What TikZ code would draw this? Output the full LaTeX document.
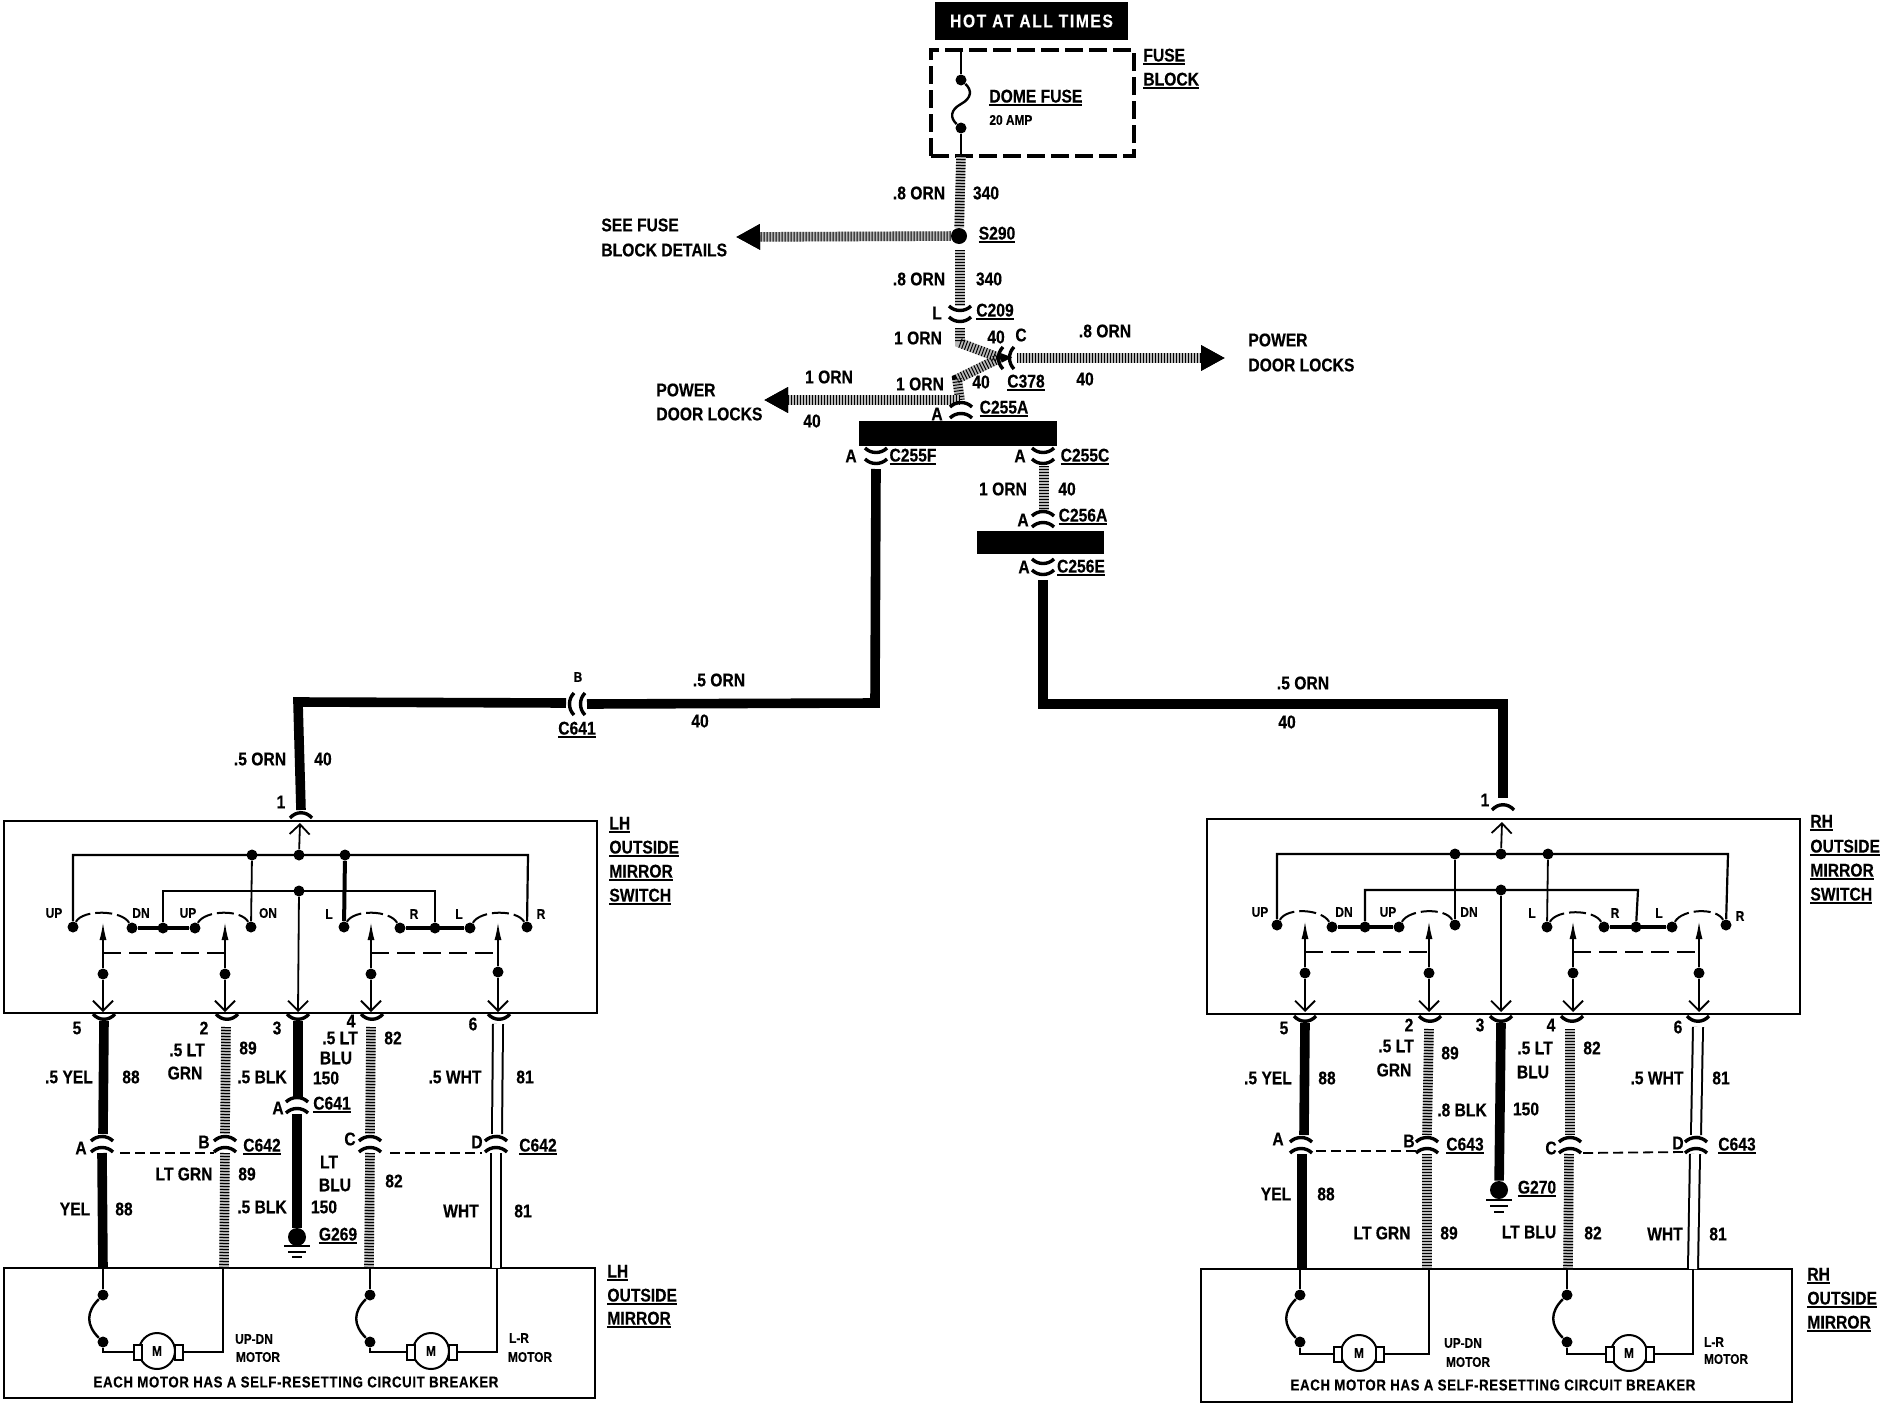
\documentclass[tikz,border=0pt]{standalone}
\usepackage{fontspec}
\setmainfont[FakeStretch=0.85,BoldFeatures={FakeBold=0.35}]{Liberation Sans}
\usetikzlibrary{arrows.meta}

\newcommand{\ulbl}[1]{\setbox0\hbox{#1}\leavevmode\vtop{\hbox{#1}\kern0.8pt\hrule width\wd0 height 1pt}}

\tikzset{
 lbl/.style = {font=\fontsize{9.2}{10}\selectfont\bfseries, inner sep=0pt},
 lblw/.style = {lbl, anchor=west},
 tiny/.style = {font=\fontsize{7}{8}\selectfont\bfseries, inner sep=0pt},
 note/.style = {font=\fontsize{7.8}{9}\selectfont\bfseries\addfontfeature{LetterSpace=4}, inner sep=0pt},
 dot/.style = {circle, fill=black, inner sep=0pt, minimum size=5.5pt},
 bigdot/.style = {circle, fill=black, inner sep=0pt, minimum size=9pt},
 sbox/.style = {draw, line width=1.4pt, inner sep=0pt, outer sep=0pt},
 brush/.style = {draw, fill=white, line width=1pt, inner sep=0pt, minimum width=4pt, minimum height=7.5pt},
 motor/.style = {circle, draw, fill=white, line width=1pt, inner sep=0pt, minimum size=18pt, font=\fontsize{7}{8}\selectfont\bfseries},
 blackwire/.style = {line width=4.8pt},
 graywire/.style = {line width=4.8pt, black!28, postaction={draw, black, line width=4.8pt, dash pattern=on 0.5pt off 1pt}},
 whitewire/.style = {line width=1pt, double=white, double distance=4pt},
 swline/.style = {line width=0.9pt},
 busline/.style = {line width=1.1pt},
 thickline/.style = {line width=2pt},
 swarc/.style = {line width=1pt, dash pattern=on 8.5pt off 2.5pt},
 linkline/.style = {line width=1.2pt, dash pattern=on 9pt off 4pt},
 tieline/.style = {line width=0.9pt, dash pattern=on 5pt off 2.5pt},
 connline/.style = {line width=1.7pt},
 upTip/.style = {-{Latex[length=9pt,width=3.5pt]}},
 downTip/.style = {-{Straight Barb[length=5pt,width=10pt]}},
 bigTip/.style = {-{Triangle[length=12pt,width=12pt,color=black,fill=black]}},
 conn/.pic = {
  \draw[connline] (-11,-8) .. controls (-5,-2) and (5,-2) .. (11,-8);
  \draw[connline] (-11,3) .. controls (-5,9) and (5,9) .. (11,3);
 },
 pin/.pic = {
  \draw[connline] (-11,-4) .. controls (-5,3) and (5,3) .. (11,-4);
 }
}

\begin{document}
\begin{tikzpicture}[x=0.5pt, y=-0.5pt]
\path[use as bounding box, fill=white] (0,0) rectangle (1880,1408);

\coordinate (FB_top) at (961,50);
\coordinate (FB_mid) at (961,104);
\coordinate (FB_bot) at (961,156);
\coordinate (W340_t) at (960,250);
\coordinate (W340_b) at (960,306);
\coordinate (C209) at (960,314);
\coordinate (W40_a) at (960,328);
\coordinate (W40_b) at (960,343);
\coordinate (C378) at (1006,358);
\coordinate (W40_c) at (1000,358);
\coordinate (W40_d) at (957,379);
\coordinate (W40_e) at (960,400);
\coordinate (W40_f) at (1017,358);
\coordinate (PDL_r) at (1225,358);
\coordinate (PDL_l) at (764,400);
\coordinate (SFB) at (736,237);
\coordinate (C255A) at (961,410);
\coordinate (C255F) at (876,456);
\coordinate (C255C) at (1043,456);
\coordinate (W40_g) at (1044,466);
\coordinate (W40_h) at (1044,510);
\coordinate (C256A) at (1043,519);
\coordinate (C256E) at (1043,567);
\coordinate (BL_a) at (876,469);
\coordinate (BL_b) at (875,703);
\coordinate (BL_c) at (587,704);
\coordinate (C641_t) at (577,704);
\coordinate (BL_d) at (566,703);
\coordinate (BL_e) at (298,702);
\coordinate (BL_f) at (301,810);
\coordinate (BR_a) at (1043,580);
\coordinate (BR_b) at (1043,704);
\coordinate (BR_c) at (1503,704);
\coordinate (BR_d) at (1503,798);

% boxes and bars
\node[fill=black, text=white, lbl, minimum width=96.5pt, minimum height=19pt] (HOT) at (1031.5,21) {\addfontfeature{LetterSpace=8.5}HOT AT ALL TIMES};
\node[draw, line width=1.7pt, dash pattern=on 9pt off 3pt, inner sep=0pt, minimum width=101.5pt, minimum height=53pt] (FB) at (1032.5,103) {};
\node[fill=black, inner sep=0pt, minimum width=99pt, minimum height=12.5pt] (BAR1) at (958,433.5) {};
\node[fill=black, inner sep=0pt, minimum width=63.5pt, minimum height=11.5pt] (BAR2) at (1040.5,542.5) {};
\node[sbox, minimum width=296.5pt, minimum height=96pt] (LS_box) at (300.5,917) {};
\node[sbox, minimum width=295.5pt, minimum height=65pt] (LM_box) at (299.5,1333) {};
\node[sbox, minimum width=296.5pt, minimum height=97.5pt] (RS_box) at (1503.5,916.5) {};
\node[sbox, minimum width=295.5pt, minimum height=66.5pt] (RM_box) at (1496.5,1335.5) {};

% fuse and orange feed
\node[dot] (F1) at (961,80) {};
\node[dot] (F2) at (961,128) {};
\node[circle, fill=black, inner sep=0pt, minimum size=8pt] (S290) at (959,236) {};
\draw[line width=1.2pt] (FB_top) -- (F1);
\draw[line width=1.2pt] (F1) .. controls (972,90) and (972,98) .. (FB_mid) .. controls (950,110) and (950,118) .. (F2);
\draw[line width=1.2pt] (F2) -- (FB_bot);
\draw[graywire] (FB_bot) -- (S290);
\draw[graywire, bigTip] (S290) -- (SFB);
\draw[graywire] (W340_t) -- (W340_b);
\draw[graywire] (W40_a) -- (W40_b) -- (W40_c) -- (W40_d) -- (W40_e);
\draw[graywire, bigTip] (W40_f) -- (PDL_r);
\draw[graywire, bigTip] (W40_e) -- (PDL_l);
\draw[graywire] (W40_g) -- (W40_h);
\draw[blackwire] (BL_a) -- (BL_b) -- (BL_c);
\draw[blackwire] (BL_d) -- (BL_e) -- (BL_f);
\draw[blackwire] (BR_a) -- (BR_b) -- (BR_c) -- (BR_d);

\pic at (C209) {conn};
\pic[rotate=-90] at (C378) {conn};
\pic[rotate=180] at (C255A) {conn};
\pic at (C255F) {conn};
\pic at (C255C) {conn};
\pic[rotate=180] at (C256A) {conn};
\pic at (C256E) {conn};
\pic[rotate=-90] at (C641_t) {conn};

% LH switch
\node[dot] (LS_J1) at (252,855) {};
\node[dot] (LS_J2) at (299,855) {};
\node[dot] (LS_J3) at (345,855) {};
\node[dot] (LS_J4) at (299,891) {};
\node[dot] (LS_C1) at (73,927) {};
\node[dot] (LS_C2) at (132,928) {};
\node[dot] (LS_C3) at (163,928) {};
\node[dot] (LS_C4) at (195,928) {};
\node[dot] (LS_C5) at (251,927) {};
\node[dot] (LS_C6) at (344,927) {};
\node[dot] (LS_C7) at (400,928) {};
\node[dot] (LS_C8) at (435,928) {};
\node[dot] (LS_C9) at (470,928) {};
\node[dot] (LS_C10) at (527,927) {};
\node[dot] (LS_W1) at (103,974) {};
\node[dot] (LS_W2) at (225,974) {};
\node[dot] (LS_W3) at (371,974) {};
\node[dot] (LS_W4) at (498,972) {};
\coordinate (LS_in) at (300,823);
\coordinate (LS_a) at (73,855);
\coordinate (LS_b) at (528,855);
\coordinate (LS_c) at (163,891);
\coordinate (LS_d) at (435,891);
\coordinate (LS_out) at (298,1012);
\coordinate (LS_K1) at (103,953);
\coordinate (LS_K2) at (225,953);
\coordinate (LS_K3) at (371,953);
\coordinate (LS_K4) at (498,953);
\coordinate (LS_T1) at (103,922);
\coordinate (LS_T2) at (225,922);
\coordinate (LS_T3) at (371,922);
\coordinate (LS_T4) at (498,922);
\coordinate (LS_B1) at (103,1012);
\coordinate (LS_B2) at (225,1012);
\coordinate (LS_B3) at (371,1012);
\coordinate (LS_B4) at (498,1012);

\draw[swline, downTip] (LS_J2) -- (LS_in);
\draw[busline] (LS_C1) -- (LS_a) -- (LS_b) -- (LS_C10);
\draw[swline] (LS_J1) -- (LS_C5);
\draw[thickline] (LS_J3) -- (LS_C6);
\draw[busline] (LS_C3) -- (LS_c) -- (LS_d) -- (LS_C8);
\draw[swline, downTip] (LS_J4) -- (LS_out);
\draw[thickline] (LS_C2) -- (LS_C4);
\draw[thickline] (LS_C7) -- (LS_C9);
\draw[swarc] (LS_C1) .. controls +(10,-18) and +(-10,-18) .. (LS_C2);
\draw[swarc] (LS_C4) .. controls +(10,-18) and +(-10,-18) .. (LS_C5);
\draw[swarc] (LS_C6) .. controls +(10,-18) and +(-10,-18) .. (LS_C7);
\draw[swarc] (LS_C9) .. controls +(10,-18) and +(-10,-18) .. (LS_C10);
\draw[swline, upTip] (LS_W1) -- (LS_T1);
\draw[swline, upTip] (LS_W2) -- (LS_T2);
\draw[swline, upTip] (LS_W3) -- (LS_T3);
\draw[swline, upTip] (LS_W4) -- (LS_T4);
\draw[swline, downTip] (LS_W1) -- (LS_B1);
\draw[swline, downTip] (LS_W2) -- (LS_B2);
\draw[swline, downTip] (LS_W3) -- (LS_B3);
\draw[swline, downTip] (LS_W4) -- (LS_B4);
\draw[linkline] (LS_K1) -- (LS_K2);
\draw[linkline] (LS_K3) -- (LS_K4);

% RH switch
\node[dot] (RS_J1) at (1455,854) {};
\node[dot] (RS_J2) at (1501,854) {};
\node[dot] (RS_J3) at (1548,854) {};
\node[dot] (RS_J4) at (1501,890) {};
\node[dot] (RS_C1) at (1277,925) {};
\node[dot] (RS_C2) at (1332,927) {};
\node[dot] (RS_C3) at (1365,927) {};
\node[dot] (RS_C4) at (1399,927) {};
\node[dot] (RS_C5) at (1455,925) {};
\node[dot] (RS_C6) at (1547,927) {};
\node[dot] (RS_C7) at (1604,927) {};
\node[dot] (RS_C8) at (1636,927) {};
\node[dot] (RS_C9) at (1672,927) {};
\node[dot] (RS_C10) at (1726,925) {};
\node[dot] (RS_W1) at (1305,973) {};
\node[dot] (RS_W2) at (1429,973) {};
\node[dot] (RS_W3) at (1573,973) {};
\node[dot] (RS_W4) at (1699,973) {};
\coordinate (RS_in) at (1502,822);
\coordinate (RS_a) at (1277,854);
\coordinate (RS_b) at (1728,854);
\coordinate (RS_c) at (1365,890);
\coordinate (RS_d) at (1638,890);
\coordinate (RS_out) at (1501,1012);
\coordinate (RS_K1) at (1305,952);
\coordinate (RS_K2) at (1429,952);
\coordinate (RS_K3) at (1573,952);
\coordinate (RS_K4) at (1699,952);
\coordinate (RS_T1) at (1305,921);
\coordinate (RS_T2) at (1429,921);
\coordinate (RS_T3) at (1573,921);
\coordinate (RS_T4) at (1699,921);
\coordinate (RS_B1) at (1305,1012);
\coordinate (RS_B2) at (1429,1012);
\coordinate (RS_B3) at (1573,1012);
\coordinate (RS_B4) at (1699,1012);

\draw[swline, downTip] (RS_J2) -- (RS_in);
\draw[busline] (RS_C1) -- (RS_a) -- (RS_b) -- (RS_C10);
\draw[busline] (RS_J1) -- (RS_C5);
\draw[swline] (RS_J3) -- (RS_C6);
\draw[busline] (RS_C3) -- (RS_c) -- (RS_d) -- (RS_C8);
\draw[swline, downTip] (RS_J4) -- (RS_out);
\draw[thickline] (RS_C2) -- (RS_C4);
\draw[thickline] (RS_C7) -- (RS_C9);
\draw[swarc] (RS_C1) .. controls +(10,-18) and +(-10,-18) .. (RS_C2);
\draw[swarc] (RS_C4) .. controls +(10,-18) and +(-10,-18) .. (RS_C5);
\draw[swarc] (RS_C6) .. controls +(10,-18) and +(-10,-18) .. (RS_C7);
\draw[swarc] (RS_C9) .. controls +(10,-18) and +(-10,-18) .. (RS_C10);
\draw[swline, upTip] (RS_W1) -- (RS_T1);
\draw[swline, upTip] (RS_W2) -- (RS_T2);
\draw[swline, upTip] (RS_W3) -- (RS_T3);
\draw[swline, upTip] (RS_W4) -- (RS_T4);
\draw[swline, downTip] (RS_W1) -- (RS_B1);
\draw[swline, downTip] (RS_W2) -- (RS_B2);
\draw[swline, downTip] (RS_W3) -- (RS_B3);
\draw[swline, downTip] (RS_W4) -- (RS_B4);
\draw[linkline] (RS_K1) -- (RS_K2);
\draw[linkline] (RS_K3) -- (RS_K4);

% LH harness
\coordinate (LP1) at (104,1018);
\coordinate (LP2) at (227,1018);
\coordinate (LP3) at (298,1018);
\coordinate (LP4) at (372,1018);
\coordinate (LP5) at (499,1018);
\coordinate (LP6) at (301,814);
\coordinate (LC1) at (102,1144);
\coordinate (LC2) at (225,1144);
\coordinate (LC3) at (297,1105);
\coordinate (LC4) at (370,1144);
\coordinate (LC5) at (496,1144);
\pic at (LP1) {pin};
\pic at (LP2) {pin};
\pic at (LP3) {pin};
\pic at (LP4) {pin};
\pic at (LP5) {pin};
\pic[rotate=180] at (LP6) {pin};
\pic[rotate=180] at (LC1) {conn};
\pic[rotate=180] at (LC2) {conn};
\pic[rotate=180] at (LC3) {conn};
\pic[rotate=180] at (LC4) {conn};
\pic[rotate=180] at (LC5) {conn};

\coordinate (LW1_a) at (104,1021);
\coordinate (LW1_b) at (103,1134);
\coordinate (LW1_c) at (102,1153);
\coordinate (LW1_d) at (103,1268);
\coordinate (LW2_a) at (226,1027);
\coordinate (LW2_b) at (225,1134);
\coordinate (LW2_c) at (225,1153);
\coordinate (LW2_d) at (224,1268);
\coordinate (LW3_a) at (298,1021);
\coordinate (LW3_b) at (298,1098);
\coordinate (LW3_c) at (297,1114);
\coordinate (LW4_a) at (371,1027);
\coordinate (LW4_b) at (370,1134);
\coordinate (LW4_c) at (370,1153);
\coordinate (LW4_d) at (369,1268);
\coordinate (LW5_a) at (498,1024);
\coordinate (LW5_b) at (497,1134);
\coordinate (LW5_c) at (496,1153);
\coordinate (LW5_d) at (496,1268);
\node[bigdot] (G269) at (297,1237) {};
\coordinate (LG1) at (284,1246);
\coordinate (LG2) at (310,1246);
\coordinate (LG3) at (288,1252);
\coordinate (LG4) at (306,1252);
\coordinate (LG5) at (292,1257);
\coordinate (LG6) at (302,1257);
\coordinate (LT1) at (120,1153);
\coordinate (LT2) at (214,1153);
\coordinate (LT3) at (390,1153);
\coordinate (LT4) at (482,1153);

\draw[blackwire] (LW1_a) -- (LW1_b);
\draw[blackwire] (LW1_c) -- (LW1_d);
\draw[graywire] (LW2_a) -- (LW2_b);
\draw[graywire] (LW2_c) -- (LW2_d);
\draw[blackwire] (LW3_a) -- (LW3_b);
\draw[blackwire] (LW3_c) -- (G269);
\draw[graywire] (LW4_a) -- (LW4_b);
\draw[graywire] (LW4_c) -- (LW4_d);
\draw[whitewire] (LW5_a) -- (LW5_b);
\draw[whitewire] (LW5_c) -- (LW5_d);
\draw[busline] (LG1) -- (LG2);
\draw[busline] (LG3) -- (LG4);
\draw[busline] (LG5) -- (LG6);
\draw[tieline] (LT1) -- (LT2);
\draw[tieline] (LT3) -- (LT4);

% RH harness
\coordinate (RP1) at (1305,1020);
\coordinate (RP2) at (1430,1020);
\coordinate (RP3) at (1501,1020);
\coordinate (RP4) at (1572,1020);
\coordinate (RP5) at (1698,1020);
\coordinate (RP6) at (1503,806);
\coordinate (RC1) at (1301,1145);
\coordinate (RC2) at (1427,1145);
\coordinate (RC3) at (1570,1145);
\coordinate (RC4) at (1696,1145);
\pic at (RP1) {pin};
\pic at (RP2) {pin};
\pic at (RP3) {pin};
\pic at (RP4) {pin};
\pic at (RP5) {pin};
\pic[rotate=180] at (RP6) {pin};
\pic[rotate=180] at (RC1) {conn};
\pic[rotate=180] at (RC2) {conn};
\pic[rotate=180] at (RC3) {conn};
\pic[rotate=180] at (RC4) {conn};

\coordinate (RW1_a) at (1305,1023);
\coordinate (RW1_b) at (1304,1135);
\coordinate (RW1_c) at (1302,1154);
\coordinate (RW1_d) at (1302,1269);
\coordinate (RW2_a) at (1429,1029);
\coordinate (RW2_b) at (1427,1135);
\coordinate (RW2_c) at (1427,1154);
\coordinate (RW2_d) at (1427,1269);
\coordinate (RW3_a) at (1501,1023);
\coordinate (RW4_a) at (1570,1029);
\coordinate (RW4_b) at (1570,1135);
\coordinate (RW4_c) at (1569,1154);
\coordinate (RW4_d) at (1568,1269);
\coordinate (RW5_a) at (1698,1027);
\coordinate (RW5_b) at (1696,1135);
\coordinate (RW5_c) at (1695,1154);
\coordinate (RW5_d) at (1693,1269);
\node[bigdot] (G270) at (1499,1190) {};
\coordinate (RG1) at (1486,1200);
\coordinate (RG2) at (1512,1200);
\coordinate (RG3) at (1490,1206);
\coordinate (RG4) at (1508,1206);
\coordinate (RG5) at (1494,1212);
\coordinate (RG6) at (1504,1212);
\coordinate (RT1) at (1316,1151);
\coordinate (RT2) at (1417,1151);
\coordinate (RT3) at (1583,1153);
\coordinate (RT4) at (1684,1152);

\draw[blackwire] (RW1_a) -- (RW1_b);
\draw[blackwire] (RW1_c) -- (RW1_d);
\draw[graywire] (RW2_a) -- (RW2_b);
\draw[graywire] (RW2_c) -- (RW2_d);
\draw[blackwire] (RW3_a) -- (G270);
\draw[graywire] (RW4_a) -- (RW4_b);
\draw[graywire] (RW4_c) -- (RW4_d);
\draw[whitewire] (RW5_a) -- (RW5_b);
\draw[whitewire] (RW5_c) -- (RW5_d);
\draw[busline] (RG1) -- (RG2);
\draw[busline] (RG3) -- (RG4);
\draw[busline] (RG5) -- (RG6);
\draw[tieline] (RT1) -- (RT2);
\draw[tieline] (RT3) -- (RT4);

% LH mirror
\coordinate (LM_a) at (103,1268);
\coordinate (LM_b) at (223,1268);
\coordinate (LM_c) at (370,1268);
\coordinate (LM_d) at (497,1268);
\node[dot] (LM_D1) at (103,1295) {};
\node[dot] (LM_D2) at (103,1342) {};
\node[dot] (LM_D3) at (370,1295) {};
\node[dot] (LM_D4) at (370,1342) {};
\node[motor] (LM_M1) at (157,1351) {M};
\node[motor] (LM_M2) at (431,1351) {M};
\node[brush] (LM_B1) at (138,1352) {};
\node[brush] (LM_B2) at (179,1352) {};
\node[brush] (LM_B3) at (411,1352) {};
\node[brush] (LM_B4) at (453,1352) {};
\draw[swline] (LM_a) -- (LM_D1);
\draw[line width=1.2pt] (LM_D1) .. controls (86,1312) and (86,1325) .. (LM_D2);
\draw[busline] (LM_D2) |- (LM_B1);
\draw[busline] (LM_B2) -| (LM_b);
\draw[busline] (LM_c) -- (LM_D3);
\draw[line width=1.2pt] (LM_D3) .. controls (353,1312) and (353,1325) .. (LM_D4);
\draw[busline] (LM_D4) |- (LM_B3);
\draw[busline] (LM_B4) -| (LM_d);

% RH mirror
\coordinate (RM_a) at (1300,1269);
\coordinate (RM_b) at (1429,1269);
\coordinate (RM_c) at (1567,1269);
\coordinate (RM_d) at (1693,1269);
\node[dot] (RM_D1) at (1300,1295) {};
\node[dot] (RM_D2) at (1300,1342) {};
\node[dot] (RM_D3) at (1567,1295) {};
\node[dot] (RM_D4) at (1567,1342) {};
\node[motor] (RM_M1) at (1359,1353) {M};
\node[motor] (RM_M2) at (1629,1353) {M};
\node[brush] (RM_B1) at (1338,1354) {};
\node[brush] (RM_B2) at (1380,1354) {};
\node[brush] (RM_B3) at (1610,1354) {};
\node[brush] (RM_B4) at (1650,1354) {};
\draw[swline] (RM_a) -- (RM_D1);
\draw[line width=1.2pt] (RM_D1) .. controls (1283,1312) and (1283,1325) .. (RM_D2);
\draw[busline] (RM_D2) |- (RM_B1);
\draw[busline] (RM_B2) -| (RM_b);
\draw[busline] (RM_c) -- (RM_D3);
\draw[line width=1.2pt] (RM_D3) .. controls (1550,1312) and (1550,1325) .. (RM_D4);
\draw[busline] (RM_D4) |- (RM_B3);
\draw[busline] (RM_B4) -| (RM_d);

% top labels
\node[lblw] (T1) at (1143,57) {\ulbl{FUSE}};
\node[lblw] (T2) at (1143,81) {\ulbl{BLOCK}};
\node[lblw] (T3) at (989,98) {\ulbl{DOME FUSE}};
\node[tiny, anchor=west] (T4) at (989,120) {20 AMP};
\node[lbl] (T5) at (919,193) {.8 ORN};
\node[lbl] (T6) at (986,193) {340};
\node[lblw] (T7) at (601,225) {SEE FUSE};
\node[lblw] (T8) at (601,250) {BLOCK DETAILS};
\node[lbl] (T9) at (997,235) {\ulbl{S290}};
\node[lbl] (T10) at (919,279) {.8 ORN};
\node[lbl] (T11) at (989,279) {340};
\node[lbl] (T12) at (937,313) {L};
\node[lbl] (T13) at (995,312) {\ulbl{C209}};
\node[lbl] (T14) at (918,338) {1 ORN};
\node[lbl] (T15) at (996,337) {40};
\node[lbl] (T16) at (1021,335) {C};
\node[lbl] (T17) at (1105,331) {.8 ORN};
\node[lblw] (T18) at (1248,340) {POWER};
\node[lblw] (T19) at (1248,365) {DOOR LOCKS};
\node[lbl] (T20) at (1085,379) {40};
\node[lbl] (T21) at (1026,383) {\ulbl{C378}};
\node[lbl] (T22) at (920,384) {1 ORN};
\node[lbl] (T23) at (981,382) {40};
\node[lbl] (T24) at (829,377) {1 ORN};
\node[lblw] (T25) at (656,390) {POWER};
\node[lblw] (T26) at (656,414) {DOOR LOCKS};
\node[lbl] (T27) at (812,421) {40};
\node[lbl] (T28) at (937,414) {A};
\node[lbl] (T29) at (1004,409) {\ulbl{C255A}};
\node[lbl] (T30) at (851,456) {A};
\node[lbl] (T31) at (913,457) {\ulbl{C255F}};
\node[lbl] (T32) at (1020,456) {A};
\node[lbl] (T33) at (1085,457) {\ulbl{C255C}};
\node[lbl] (T34) at (1003,489) {1 ORN};
\node[lbl] (T35) at (1067,489) {40};
\node[lbl] (T36) at (1023,520) {A};
\node[lbl] (T37) at (1083,517) {\ulbl{C256A}};
\node[lbl] (T38) at (1024,567) {A};
\node[lbl] (T39) at (1081,568) {\ulbl{C256E}};
\node[lbl] (T40) at (719,680) {.5 ORN};
\node[lbl] (T41) at (700,721) {40};
\node[tiny] (T42) at (578,677) {B};
\node[lbl] (T43) at (577,730) {\ulbl{C641}};
\node[lbl] (T44) at (260,759) {.5 ORN};
\node[lbl] (T45) at (323,759) {40};
\node[lbl] (T46) at (281,802) {1};
\node[lbl] (T47) at (1303,683) {.5 ORN};
\node[lbl] (T48) at (1287,722) {40};
\node[lbl] (T49) at (1485,800) {1};

% LH labels
\node[lblw] (A1) at (609,825) {\ulbl{LH}};
\node[lblw] (A2) at (609,849) {\ulbl{OUTSIDE}};
\node[lblw] (A3) at (609,873) {\ulbl{MIRROR}};
\node[lblw] (A4) at (609,897) {\ulbl{SWITCH}};
\node[tiny] (A5) at (54,913) {UP};
\node[tiny] (A6) at (141,913) {DN};
\node[tiny] (A7) at (188,913) {UP};
\node[tiny] (A8) at (268,913) {ON};
\node[tiny] (A9) at (329,914) {L};
\node[tiny] (A10) at (414,914) {R};
\node[tiny] (A11) at (459,914) {L};
\node[tiny] (A12) at (541,914) {R};
\node[lbl] (A13) at (77,1028) {5};
\node[lbl] (A14) at (204,1028) {2};
\node[lbl] (A15) at (277,1028) {3};
\node[lbl] (A16) at (351,1021) {4};
\node[lbl] (A17) at (473,1024) {6};
\node[lbl] (A18) at (187,1050) {.5 LT};
\node[lbl] (A19) at (248,1048) {89};
\node[lbl] (A20) at (340,1038) {.5 LT};
\node[lbl] (A21) at (393,1038) {82};
\node[lbl] (A22) at (336,1058) {BLU};
\node[lbl] (A23) at (185,1073) {GRN};
\node[lbl] (A24) at (69,1077) {.5 YEL};
\node[lbl] (A25) at (131,1077) {88};
\node[lbl] (A26) at (262,1077) {.5 BLK};
\node[lbl] (A27) at (326,1078) {150};
\node[lbl] (A28) at (455,1077) {.5 WHT};
\node[lbl] (A29) at (525,1077) {81};
\node[lbl] (A30) at (278,1108) {A};
\node[lbl] (A31) at (332,1105) {\ulbl{C641}};
\node[lbl] (A32) at (81,1148) {A};
\node[lbl] (A33) at (204,1142) {B};
\node[lbl] (A34) at (262,1147) {\ulbl{C642}};
\node[lbl] (A35) at (350,1139) {C};
\node[lbl] (A36) at (477,1142) {D};
\node[lbl] (A37) at (538,1147) {\ulbl{C642}};
\node[lbl] (A38) at (184,1174) {LT GRN};
\node[lbl] (A39) at (247,1174) {89};
\node[lbl] (A40) at (329,1162) {LT};
\node[lbl] (A41) at (335,1185) {BLU};
\node[lbl] (A42) at (394,1181) {82};
\node[lbl] (A43) at (75,1209) {YEL};
\node[lbl] (A44) at (124,1209) {88};
\node[lbl] (A45) at (262,1207) {.5 BLK};
\node[lbl] (A46) at (324,1207) {150};
\node[lbl] (A47) at (461,1211) {WHT};
\node[lbl] (A48) at (523,1211) {81};
\node[lbl] (A49) at (338,1236) {\ulbl{G269}};
\node[lblw] (A50) at (607,1273) {\ulbl{LH}};
\node[lblw] (A51) at (607,1297) {\ulbl{OUTSIDE}};
\node[lblw] (A52) at (607,1320) {\ulbl{MIRROR}};
\node[tiny] (A53) at (254,1339) {UP-DN};
\node[tiny] (A54) at (258,1357) {MOTOR};
\node[tiny] (A55) at (519,1338) {L-R};
\node[tiny] (A56) at (530,1357) {MOTOR};
\node[note] (A57) at (296,1382) {EACH MOTOR HAS A SELF-RESETTING CIRCUIT BREAKER};

% RH labels
\node[lblw] (B1) at (1810,823) {\ulbl{RH}};
\node[lblw] (B2) at (1810,848) {\ulbl{OUTSIDE}};
\node[lblw] (B3) at (1810,872) {\ulbl{MIRROR}};
\node[lblw] (B4) at (1810,896) {\ulbl{SWITCH}};
\node[tiny] (B5) at (1260,912) {UP};
\node[tiny] (B6) at (1344,912) {DN};
\node[tiny] (B7) at (1388,912) {UP};
\node[tiny] (B8) at (1469,912) {DN};
\node[tiny] (B9) at (1532,913) {L};
\node[tiny] (B10) at (1615,913) {R};
\node[tiny] (B11) at (1659,913) {L};
\node[tiny] (B12) at (1740,916) {R};
\node[lbl] (B13) at (1284,1028) {5};
\node[lbl] (B14) at (1409,1025) {2};
\node[lbl] (B15) at (1480,1025) {3};
\node[lbl] (B16) at (1551,1025) {4};
\node[lbl] (B17) at (1678,1027) {6};
\node[lbl] (B18) at (1396,1046) {.5 LT};
\node[lbl] (B19) at (1450,1053) {89};
\node[lbl] (B20) at (1535,1048) {.5 LT};
\node[lbl] (B21) at (1592,1048) {82};
\node[lbl] (B22) at (1394,1070) {GRN};
\node[lbl] (B23) at (1533,1072) {BLU};
\node[lbl] (B24) at (1268,1078) {.5 YEL};
\node[lbl] (B25) at (1327,1078) {88};
\node[lbl] (B26) at (1657,1078) {.5 WHT};
\node[lbl] (B27) at (1721,1078) {81};
\node[lbl] (B28) at (1462,1110) {.8 BLK};
\node[lbl] (B29) at (1526,1109) {150};
\node[lbl] (B30) at (1278,1139) {A};
\node[lbl] (B31) at (1409,1141) {B};
\node[lbl] (B32) at (1465,1146) {\ulbl{C643}};
\node[lbl] (B33) at (1551,1148) {C};
\node[lbl] (B34) at (1678,1143) {D};
\node[lbl] (B35) at (1737,1146) {\ulbl{C643}};
\node[lbl] (B36) at (1276,1194) {YEL};
\node[lbl] (B37) at (1326,1194) {88};
\node[lbl] (B38) at (1537,1189) {\ulbl{G270}};
\node[lbl] (B39) at (1382,1233) {LT GRN};
\node[lbl] (B40) at (1449,1233) {89};
\node[lbl] (B41) at (1529,1232) {LT BLU};
\node[lbl] (B42) at (1593,1233) {82};
\node[lbl] (B43) at (1665,1234) {WHT};
\node[lbl] (B44) at (1718,1234) {81};
\node[lblw] (B45) at (1807,1276) {\ulbl{RH}};
\node[lblw] (B46) at (1807,1300) {\ulbl{OUTSIDE}};
\node[lblw] (B47) at (1807,1324) {\ulbl{MIRROR}};
\node[tiny] (B48) at (1463,1343) {UP-DN};
\node[tiny] (B49) at (1468,1362) {MOTOR};
\node[tiny] (B50) at (1714,1342) {L-R};
\node[tiny] (B51) at (1726,1359) {MOTOR};
\node[note] (B52) at (1493,1385) {EACH MOTOR HAS A SELF-RESETTING CIRCUIT BREAKER};

\end{tikzpicture}
\end{document}
